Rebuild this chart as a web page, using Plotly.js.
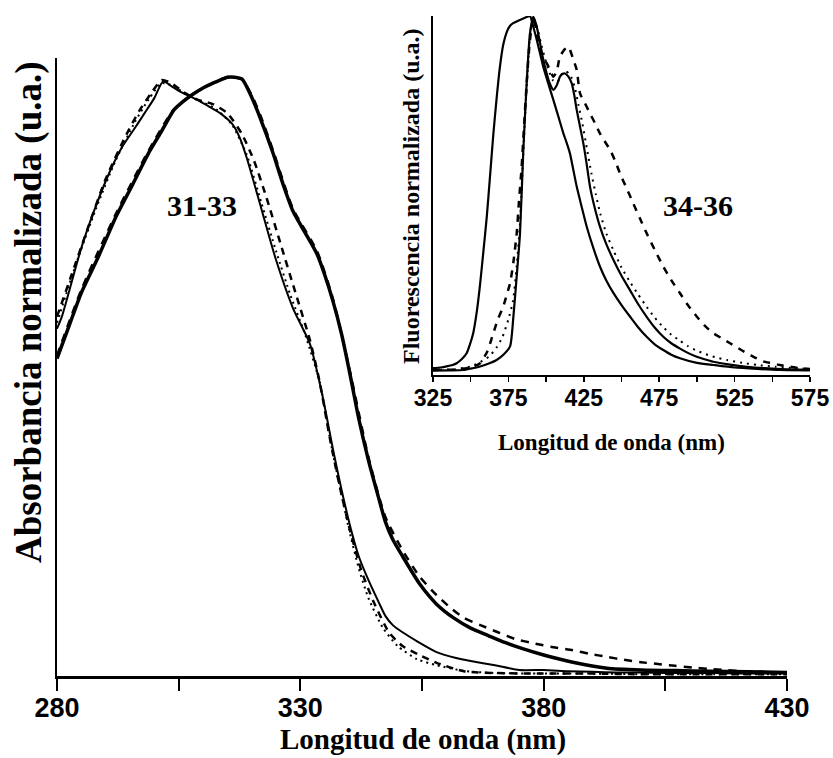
<!DOCTYPE html>
<html>
<head>
<meta charset="utf-8">
<script src="https://cdn.plot.ly/plotly-3.0.1.min.js"></script>
<style>html,body{margin:0;padding:0;background:#fff}#chart{width:833px;height:758px}</style>
</head>
<body>
<div id="chart"></div>
<script>
// ---- Main chart: absorbance (31-33) ----
const absLeftSolidWl = [280,281,285,288,291,293.5,296,298,300,301.8,303.5,305.5,308.8,311,313.5,316,317.5,319,322,325,328.5,332,334.5,336.8,338.5,340.4,342,344,346,347.5,349,351,354,358,362,365,370,375,380,385,390,395,400,405,410,415,420,425,430];
const absLeftSolidVal = [0.58,0.60,0.715,0.785,0.845,0.885,0.915,0.94,0.965,0.993,0.985,0.975,0.962,0.952,0.940,0.922,0.90,0.865,0.78,0.695,0.614,0.554,0.47,0.375,0.31,0.245,0.20,0.16,0.125,0.10,0.085,0.073,0.058,0.040,0.030,0.025,0.018,0.010,0.010,0.008,0.007,0.006,0.006,0.005,0.005,0.005,0.004,0.004,0.004];

const absLeftDashWl = [280,283,286,290,294,297,299.5,301.5,303.5,306,309,312,315,318,320.5,323,326,329,332,334,336,338,340,342.5,345,348.2,351,354.5,358,363.6,370,380,390,400,410,420,430];
const absLeftDashVal = [0.60,0.67,0.74,0.83,0.90,0.945,0.975,0.995,0.99,0.975,0.962,0.955,0.94,0.905,0.86,0.80,0.72,0.64,0.56,0.49,0.40,0.32,0.25,0.177,0.125,0.073,0.05,0.035,0.022,0.008,0.005,0.004,0.004,0.003,0.003,0.003,0.003];

const absLeftDotWl = [280,284,288,292,296,299,301.5,304,307,310,313,316,319,322,325,328,331,334,336,338,340,342,344,347,350,354,358,364,370,380,390,400,415,430];
const absLeftDotVal = [0.59,0.69,0.78,0.86,0.925,0.965,0.99,0.985,0.968,0.958,0.945,0.92,0.87,0.79,0.71,0.635,0.57,0.49,0.40,0.32,0.245,0.18,0.13,0.08,0.05,0.028,0.018,0.008,0.005,0.004,0.004,0.003,0.003,0.003];

const absRightSolidWl = [280,282.5,285,288.5,292,295.5,299,301.5,304,306,308,310,311.5,313.5,315,316.5,318,319.7,321.7,324.4,326.5,328.5,331,333.4,335,336.7,338.5,340.3,342,344,346,347.5,349,351,354.5,358,361.5,365,368.5,372,375.5,380,386,393,400,407,414,422,430];
const absRightSolidVal = [0.53,0.585,0.64,0.70,0.765,0.82,0.876,0.91,0.945,0.96,0.972,0.982,0.988,0.995,1.0,1.0,0.997,0.972,0.933,0.873,0.82,0.776,0.74,0.705,0.67,0.626,0.57,0.50,0.43,0.36,0.30,0.257,0.228,0.200,0.154,0.120,0.097,0.08,0.068,0.056,0.046,0.035,0.023,0.013,0.010,0.009,0.008,0.007,0.006];

const absRightDashWl = [280,285,292,299,304,308,311.5,315,318,320,322,324.5,328.5,333.4,336.7,340.3,344,347.5,351,354.5,358,361,363.6,367,370.6,374,378.3,382,386,389.5,393,396.5,400,403.5,407,410.5,414,417.5,421,424.5,428,430];
const absRightDashVal = [0.535,0.645,0.77,0.88,0.946,0.972,0.988,1.0,0.996,0.97,0.932,0.875,0.78,0.71,0.63,0.505,0.365,0.265,0.21,0.166,0.135,0.113,0.097,0.085,0.073,0.062,0.054,0.048,0.043,0.037,0.032,0.027,0.023,0.02,0.017,0.014,0.012,0.01,0.008,0.007,0.006,0.006];

const mainTickVals = [280,305,330,355,380,405,430];
const mainTickText = ['280','','330','','380','','430'];

// ---- Inset: fluorescence (34-36) ----
const flLeftWl = [325,330,334,338,340.7,344,347.3,349.5,351.7,354,356.2,358.4,360.6,362.8,365,367.2,369.4,371.6,373.9,376,378.2,381.5,384.9,387.1,389.3,391.5,394,396,398.1,401.5,404.8,408,411.4,413.6,415.8,418,420.3,423.6,426.9,431.3,435.7,440,444.6,450,455.6,461,466.7,472,477.7,483,488.8,500,510.9,525,540,555,575];
const flLeftVal = [0.013,0.015,0.018,0.022,0.027,0.038,0.055,0.08,0.112,0.17,0.247,0.34,0.434,0.55,0.668,0.77,0.858,0.92,0.955,0.972,0.980,0.987,0.993,0.997,1.0,0.97,0.93,0.895,0.858,0.81,0.765,0.72,0.672,0.645,0.615,0.57,0.522,0.465,0.41,0.35,0.298,0.258,0.224,0.19,0.158,0.128,0.101,0.08,0.064,0.051,0.041,0.028,0.022,0.015,0.011,0.008,0.007];

const flRightSolidWl = [325,335,345.1,350,356.2,362,367.2,372,376.1,378.3,380.5,382.7,384.9,387.1,389.3,391.5,393.5,396,398,400.4,402.5,404.8,407,409.2,411,412.5,414.8,417,418.6,420.3,422.5,424.7,426.9,429.1,432.4,435.7,440,444.6,450,455.6,461,466.7,472,477.7,483,488.8,494,499.9,505,510.9,522,533,545,560,577];
const flRightSolidVal = [0.006,0.007,0.008,0.012,0.018,0.026,0.036,0.052,0.074,0.157,0.27,0.391,0.625,0.811,0.951,0.998,0.975,0.924,0.88,0.839,0.81,0.793,0.805,0.830,0.838,0.839,0.83,0.811,0.78,0.737,0.69,0.643,0.585,0.522,0.46,0.410,0.36,0.317,0.272,0.232,0.193,0.157,0.127,0.101,0.083,0.068,0.056,0.045,0.038,0.031,0.023,0.017,0.013,0.010,0.008];

const flRightDashWl = [325,340,350,356.2,361,365,368,371.6,374,376.1,378.3,380.5,382,383.8,385.5,387.1,389,390.4,391.5,393.5,396,398,400.4,402.5,404.8,407,409.2,412,414.7,417.5,420.3,422.5,425.8,429.1,432.4,435.7,439,442.4,445.7,449,453.4,457.8,462.2,466.7,472,477.7,483,488.8,494,499.9,505,510.9,516.5,522,527.5,533,538.5,544,549.5,555.1,562,568.4,575];
const flRightDashVal = [0.008,0.01,0.015,0.027,0.06,0.111,0.15,0.186,0.22,0.251,0.31,0.391,0.48,0.578,0.70,0.811,0.92,0.970,0.998,0.96,0.91,0.885,0.868,0.85,0.830,0.845,0.886,0.905,0.914,0.885,0.849,0.783,0.755,0.727,0.70,0.671,0.648,0.625,0.595,0.559,0.517,0.475,0.433,0.391,0.345,0.298,0.26,0.223,0.19,0.158,0.133,0.111,0.097,0.083,0.069,0.055,0.043,0.032,0.027,0.022,0.017,0.013,0.011];

const flRightDotWl = [325,340,350,356.2,362,367,371,375,378,380.5,382.7,384.9,387.1,389.3,391.5,394,396.5,399,401.5,404.5,407.5,410,413,416,419,421.5,424,427,430,433,436,440,445,450,455.6,461,466.7,472,477.7,483,488.8,494,500,506,512,520,530,540,552,565,575];
const flRightDotVal = [0.008,0.01,0.018,0.03,0.045,0.07,0.10,0.15,0.2,0.3,0.42,0.62,0.80,0.945,0.995,0.97,0.925,0.885,0.85,0.82,0.815,0.835,0.845,0.835,0.80,0.75,0.70,0.63,0.56,0.50,0.445,0.39,0.34,0.295,0.255,0.22,0.185,0.155,0.128,0.107,0.09,0.075,0.062,0.052,0.044,0.036,0.028,0.022,0.017,0.013,0.011];

const insetTickVals = [325,350,375,400,425,450,475,500,525,550,575];
const insetTickText = ['325','','375','','425','','475','','525','','575'];

// ---- geometry helpers (pixel -> paper) ----
const W = 833, H = 758, mL = 57, mR = 15, mT = 10, mB = 82;
const pw = W - mL - mR, ph = H - mT - mB;
const px = x => (x - mL) / pw;
const py = y => (H - mB - y) / ph;

const serif = 'Liberation Serif, Times New Roman, serif';
const sans = 'Liberation Sans, Arial, sans-serif';

function tr(x, y, width, dash, inset) {
  return {x: x, y: y, type: 'scatter', mode: 'lines',
    line: {color: '#000', width: width, dash: dash, shape: 'spline', smoothing: 0.6},
    xaxis: inset ? 'x2' : 'x', yaxis: inset ? 'y2' : 'y', hoverinfo: 'skip'};
}

const data = [
  tr(absLeftDotWl, absLeftDotVal, 2, '2px,4px', false),
  tr(absLeftDashWl, absLeftDashVal, 2.5, '7px,6px', false),
  tr(absLeftSolidWl, absLeftSolidVal, 2, 'solid', false),
  tr(absRightDashWl, absRightDashVal, 2.5, '8px,7px', false),
  tr(absRightSolidWl, absRightSolidVal, 3.5, 'solid', false),
  tr(flLeftWl, flLeftVal, 2.2, 'solid', true),
  tr(flRightDotWl, flRightDotVal, 2, '2px,5px', true),
  tr(flRightDashWl, flRightDashVal, 2.5, '7px,7px', true),
  tr(flRightSolidWl, flRightSolidVal, 2.2, 'solid', true)
];

const layout = {
  width: W, height: H,
  margin: {l: mL, r: mR, t: mT, b: mB},
  paper_bgcolor: '#fff', plot_bgcolor: 'rgba(0,0,0,0)',
  showlegend: false,
  xaxis: {
    domain: [0, px(787)], range: [280, 430],
    showline: true, linecolor: '#000', linewidth: 2.5,
    showgrid: false, zeroline: false,
    ticks: 'outside', ticklen: 12, tickwidth: 2, tickcolor: '#000',
    tickmode: 'array', tickvals: mainTickVals, ticktext: mainTickText,
    tickfont: {family: sans, size: 27, color: '#000', weight: 'bold'},
    ticklabelstandoff: -6,
    anchor: 'y'
  },
  yaxis: {
    domain: [0, py(58)], range: [0, 1.032],
    showline: true, linecolor: '#000', linewidth: 2.5,
    showgrid: false, zeroline: false, showticklabels: false, ticks: '',
    anchor: 'x'
  },
  xaxis2: {
    domain: [px(433), px(810)], range: [325, 575],
    showline: true, linecolor: '#000', linewidth: 2,
    showgrid: false, zeroline: false,
    ticks: 'outside', ticklen: 5, tickwidth: 1.5, tickcolor: '#000',
    tickmode: 'array', tickvals: insetTickVals, ticktext: insetTickText,
    tickfont: {family: sans, size: 23, color: '#000', weight: 'bold'},
    ticklabelstandoff: -4,
    anchor: 'y2'
  },
  yaxis2: {
    domain: [py(375), py(16)], range: [-0.006, 1.0],
    showline: true, linecolor: '#000', linewidth: 2.5,
    showgrid: false, zeroline: false, showticklabels: false, ticks: '',
    anchor: 'x2'
  },
  annotations: [
    {text: '31-33', xref: 'paper', yref: 'paper', x: px(202), y: py(205), showarrow: false,
     xanchor: 'center', yanchor: 'middle', font: {family: serif, size: 30, color: '#000', weight: 'bold'}},
    {text: '34-36', xref: 'paper', yref: 'paper', x: px(698), y: py(205), showarrow: false,
     xanchor: 'center', yanchor: 'middle', font: {family: serif, size: 30, color: '#000', weight: 'bold'}},
    {text: 'Absorbancia normalizada (u.a.)', xref: 'paper', yref: 'paper', x: px(29), y: py(312),
     showarrow: false, textangle: -90, xanchor: 'center', yanchor: 'middle',
     font: {family: serif, size: 37, color: '#000', weight: 'bold'}},
    {text: 'Longitud de onda (nm)', xref: 'paper', yref: 'paper', x: px(423), y: py(758),
     showarrow: false, xanchor: 'center', yanchor: 'bottom',
     font: {family: serif, size: 29, color: '#000', weight: 'bold'}},
    {text: 'Longitud de onda (nm)', xref: 'paper', yref: 'paper', x: px(611), y: py(443),
     showarrow: false, xanchor: 'center', yanchor: 'middle',
     font: {family: serif, size: 23, color: '#000', weight: 'bold'}},
    {text: 'Fluorescencia normalizada (u.a.)', xref: 'paper', yref: 'paper', x: px(411), y: py(196),
     showarrow: false, textangle: -90, xanchor: 'center', yanchor: 'middle',
     font: {family: serif, size: 24, color: '#000', weight: 'bold'}}
  ]
};

Plotly.newPlot('chart', data, layout, {staticPlot: true, displayModeBar: false});
</script>
</body>
</html>
